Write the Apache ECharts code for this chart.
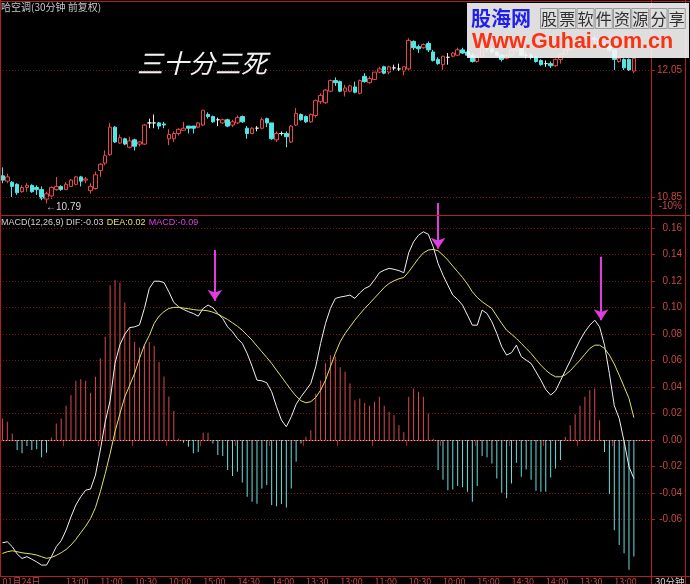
<!DOCTYPE html>
<html>
<head>
<meta charset="utf-8">
<title>哈空调 30分钟 MACD</title>
<script src="https://cdn.jsdelivr.net/npm/echarts@6.0.0/dist/echarts.min.js"></script>
<style>
html,body{margin:0;padding:0;background:#000;}
#chart{width:690px;height:584px;}
</style>
</head>
<body>
<div id="chart"></div>
<script>
// ---------------- data ----------------
const priceOpen = [
 11.05,11.00,10.99,10.97,10.90,10.94,10.96,10.94,10.92,10.83,
 10.86,10.92,10.95,10.92,10.95,10.97,11.04,11.01,10.91,10.93,
 11.10,11.17,11.25,11.51,11.36,11.40,11.32,11.39,11.35,11.35,
 11.55,11.55,11.55,11.54,11.40,11.40,11.45,11.48,11.52,11.52,
 11.51,11.53,11.63,11.61,11.58,11.55,11.58,11.53,11.55,11.61,
 11.50,11.45,11.50,11.50,11.59,11.55,11.39,11.45,11.45,11.37,
 11.53,11.63,11.61,11.56,11.62,11.75,11.74,11.85,11.95,11.94,
 11.85,11.85,11.89,11.83,11.99,11.93,11.96,12.03,12.08,12.03,
 12.07,12.06,12.04,12.06,12.32,12.27,12.26,12.30,12.22,12.15,
 12.10,12.17,12.18,12.19,12.24,12.22,12.19,12.13,12.18,12.27,
 12.25,12.22,12.19,12.16,12.19,12.24,12.25,12.19,12.19,12.17,
 12.14,12.11,12.11,12.09,12.15,12.20,12.24,12.27,12.30,12.32,
 12.33,12.35,12.34,12.29,12.28,12.24,12.13,12.15,12.15,12.04];
const priceClose = [
 11.01,11.04,10.95,10.89,10.94,10.96,10.90,10.92,10.84,10.88,
 10.94,10.95,10.92,10.97,11.01,11.04,11.00,11.02,10.95,11.06,
 11.16,11.24,11.51,11.37,11.41,11.35,11.38,11.33,11.37,11.53,
 11.55,11.55,11.52,11.53,11.44,11.45,11.49,11.50,11.50,11.50,
 11.55,11.67,11.61,11.56,11.58,11.58,11.52,11.56,11.60,11.56,
 11.45,11.50,11.50,11.58,11.55,11.40,11.45,11.45,11.42,11.52,
 11.64,11.58,11.56,11.63,11.76,11.81,11.86,11.95,11.93,11.85,
 11.88,11.90,11.84,11.95,11.94,11.97,12.03,12.06,12.02,12.08,
 12.07,12.06,12.08,12.33,12.26,12.25,12.29,12.24,12.14,12.11,
 12.18,12.17,12.21,12.24,12.21,12.19,12.13,12.18,12.27,12.25,
 12.22,12.19,12.15,12.19,12.24,12.26,12.19,12.19,12.17,12.13,
 12.10,12.11,12.09,12.15,12.20,12.24,12.27,12.30,12.32,12.33,
 12.35,12.34,12.29,12.27,12.24,12.15,12.16,12.07,12.05,12.16];
const priceLow = [
 10.98,10.98,10.85,10.87,10.89,10.90,10.89,10.87,10.82,10.79,
 10.83,10.91,10.91,10.92,10.95,10.96,10.95,10.98,10.88,10.92,
 11.04,11.15,11.24,11.36,11.35,11.34,11.31,11.29,11.33,11.34,
 11.50,11.50,11.49,11.50,11.34,11.37,11.43,11.48,11.45,11.45,
 11.50,11.52,11.59,11.55,11.52,11.54,11.51,11.51,11.54,11.55,
 11.40,11.45,11.47,11.49,11.51,11.39,11.37,11.43,11.32,11.36,
 11.52,11.57,11.55,11.55,11.60,11.73,11.73,11.84,11.90,11.84,
 11.80,11.84,11.83,11.82,11.93,11.92,11.96,12.02,12.01,12.01,
 12.04,12.04,12.00,12.05,12.24,12.21,12.25,12.22,12.13,12.10,
 12.05,12.10,12.17,12.18,12.20,12.18,12.12,12.12,12.17,12.22,
 12.21,12.18,12.13,12.15,12.18,12.22,12.18,12.16,12.15,12.12,
 12.09,12.08,12.07,12.08,12.11,12.19,12.23,12.26,12.28,12.29,
 12.31,12.31,12.27,12.25,12.22,12.05,12.12,12.05,12.04,12.02];
const priceHigh = [
 11.13,11.07,11.00,10.98,10.96,10.98,10.97,10.96,10.95,10.90,
 10.95,11.04,10.96,10.99,11.02,11.05,11.05,11.04,10.98,11.09,
 11.17,11.29,11.55,11.52,11.44,11.41,11.42,11.40,11.38,11.54,
 11.59,11.63,11.56,11.56,11.49,11.47,11.50,11.56,11.52,11.52,
 11.56,11.67,11.65,11.62,11.60,11.59,11.59,11.58,11.62,11.62,
 11.52,11.51,11.52,11.60,11.60,11.55,11.47,11.47,11.47,11.53,
 11.69,11.64,11.62,11.64,11.77,11.83,11.87,11.96,11.98,11.95,
 11.91,11.91,11.94,11.96,12.02,11.99,12.03,12.08,12.09,12.09,
 12.10,12.11,12.08,12.35,12.33,12.29,12.30,12.32,12.24,12.17,
 12.18,12.21,12.22,12.26,12.26,12.24,12.21,12.19,12.29,12.28,
 12.26,12.23,12.20,12.20,12.25,12.28,12.26,12.22,12.21,12.18,
 12.15,12.14,12.13,12.16,12.21,12.25,12.29,12.32,12.34,12.35,
 12.37,12.37,12.35,12.31,12.30,12.25,12.17,12.16,12.16,12.17];

const difValues = [
 -0.0775,-0.0768,-0.0805,-0.086,-0.0894,-0.088,-0.090,-0.092,-0.0944,-0.0944,
 -0.088,-0.0805,-0.076,-0.068,-0.058,-0.049,-0.0428,-0.0378,-0.037,-0.0264,
 -0.0075,0.0138,0.030,0.058,0.072,0.080,0.085,0.0855,0.087,0.0994,
 0.1145,0.120,0.120,0.119,0.112,0.104,0.1007,0.0986,0.097,0.0956,
 0.0936,0.0994,0.102,0.0999,0.0956,0.0918,0.0855,0.0818,0.0767,0.073,
 0.0654,0.0558,0.0453,0.0448,0.0433,0.0365,0.0252,0.0151,0.0101,0.0176,
 0.027,0.0327,0.0377,0.0428,0.0554,0.073,0.0881,0.0994,0.107,0.108,
 0.1087,0.1095,0.107,0.1112,0.1145,0.1162,0.121,0.1264,0.1284,0.1297,
 0.129,0.128,0.1264,0.1415,0.1498,0.1548,0.1573,0.1555,0.146,0.1334,
 0.1246,0.117,0.1095,0.1062,0.1019,0.0944,0.0868,0.0868,0.0982,0.0956,
 0.0893,0.0805,0.0705,0.0642,0.066,0.0717,0.063,0.0604,0.0579,0.0516,
 0.0453,0.0382,0.034,0.0372,0.0448,0.0524,0.0599,0.068,0.0755,0.0818,
 0.0868,0.0906,0.0855,0.0717,0.0503,0.026,0.0164,-0.001,-0.0201,-0.029];
const deaValues = [
 -0.0856,-0.0843,-0.0836,-0.0843,-0.0851,-0.0856,-0.0861,-0.0868,-0.0881,-0.0893,
 -0.0886,-0.0871,-0.0851,-0.0826,-0.0793,-0.075,-0.070,-0.065,-0.0592,-0.051,
 -0.039,-0.0252,-0.0101,0.0063,0.020,0.0327,0.0415,0.0503,0.0617,0.0717,
 0.079,0.0881,0.0936,0.097,0.0994,0.1002,0.1002,0.0997,0.0992,0.0986,
 0.0981,0.0981,0.0976,0.0966,0.0951,0.0931,0.0911,0.0885,0.086,0.083,
 0.0792,0.0755,0.071,0.0667,0.0624,0.0579,0.0528,0.0478,0.0428,0.0377,
 0.0332,0.0297,0.0282,0.029,0.0322,0.0377,0.0453,0.0554,0.0654,0.0743,
 0.0805,0.0855,0.0906,0.0951,0.0994,0.1032,0.1072,0.1112,0.1153,0.1183,
 0.1203,0.1218,0.1228,0.1271,0.1321,0.1372,0.1414,0.1435,0.144,0.143,
 0.1397,0.1359,0.1314,0.1271,0.1228,0.1178,0.112,0.1077,0.1045,0.1019,
 0.0994,0.0936,0.0881,0.083,0.080,0.0767,0.073,0.0692,0.0654,0.0609,
 0.0566,0.0528,0.0498,0.0478,0.0478,0.0493,0.0524,0.0564,0.0604,0.0649,
 0.0692,0.0717,0.0717,0.0692,0.0642,0.0574,0.0491,0.0403,0.0315,0.017];
const macdValues = [
 0.0164,0.0138,0.005,-0.0075,-0.010,-0.0045,-0.0075,-0.007,-0.013,-0.0096,
 0.002,0.0126,0.0164,0.026,0.034,0.0448,0.046,0.0448,0.0357,0.0478,
 0.0619,0.078,0.117,0.121,0.119,0.104,0.0855,0.074,0.070,0.072,
 0.074,0.071,0.059,0.048,0.033,0.022,0.001,-0.002,-0.005,-0.010,
 -0.009,0.0055,0.0055,-0.0025,-0.0113,-0.012,-0.0226,-0.0272,-0.024,-0.032,
 -0.0428,-0.0466,-0.048,-0.0365,-0.034,-0.049,-0.050,-0.0483,-0.051,-0.0365,
 -0.0164,-0.0025,0.0025,0.0075,0.035,0.045,0.058,0.064,0.063,0.055,
 0.0516,0.0428,0.030,0.0315,0.028,0.026,0.029,0.0327,0.026,0.0214,
 0.019,0.0113,0.006,0.0327,0.039,0.0365,0.0327,0.020,0.001,-0.0226,
 -0.030,-0.0378,-0.0373,-0.0347,-0.0357,-0.039,-0.0466,-0.0347,-0.012,-0.013,
 -0.0176,-0.029,-0.0398,-0.044,-0.0327,-0.0171,-0.0277,-0.0222,-0.030,-0.0383,
 -0.039,-0.039,-0.0282,-0.0214,-0.015,0.0025,0.0113,0.0196,0.026,0.0327,
 0.0377,0.039,0.015,-0.009,-0.0408,-0.068,-0.0793,-0.0855,-0.098,-0.088];

// time axis tick labels and the bar index each one sits at
const tickIndex  = [0, 13, 20, 27, 34, 41, 48, 55, 62, 69, 76, 83, 90, 97, 104, 111, 118, 125];
const tickLabels = ['01月24日','13:00','11:00','10:30','10:00','15:00','14:30','14:00','13:30',
                    '13:00','11:00','10:30','10:00','15:00','14:30','14:00','13:30','13:00'];
const priceLabels = [12.05, 10.85];
const limitPct = -10;
const macdLabels = [-0.06,-0.04,-0.02,0,0.02,0.04,0.06,0.08,0.10,0.12,0.14,0.16];

// annotation arrows (bar index, MACD value at top, MACD value at tip)
const arrowIdx  = [43.4, 89.0, 122.3];
const arrowFrom = [0.1435, 0.179, 0.1384];
const arrowTo   = [0.1053, 0.1446, 0.0906];

// ---------------- build chart ----------------
const SLOTS = 133;
const FRAME = '#b41e1e';
const GRIDDOT = '#7c1616';
const AXISTXT = '#c84646';
const UP = '#e84848';
const DOWN = '#52e6e6';
const HUP = '#d84a4a';
const HDOWN = '#66dede';
const FONT = '"Liberation Sans", Arial, sans-serif';
const CJK = '"Noto Sans CJK SC", sans-serif';

const slots = Array.from({length: SLOTS}, (_, i) => String(i));
const labelAt = {};
tickIndex.forEach((ix, k) => { labelAt[ix] = tickLabels[k]; });
const isTick = (i) => Object.prototype.hasOwnProperty.call(labelAt, i);

const candles = priceOpen.map((o, i) => [o, priceClose[i], priceLow[i], priceHigh[i]]);

const priceMin = 10.68, priceMax = 12.664;
const pctBase = priceLabels[1] / (1 + limitPct / 100);
const pctMin = (priceMin / pctBase - 1) * 100;
const pctMax = (priceMax / pctBase - 1) * 100;
const macdMin = -0.10, macdMax = 0.17;
const macdPerPx = (macdMax - macdMin) / 357.5;

const last = difValues.length - 1;
const f2 = v => v.toFixed(2);

const graphics = [
  // frame
  {type: 'line', shape: {x1: 0, y1: 1.5, x2: 690, y2: 1.5}},
  {type: 'line', shape: {x1: 0.5, y1: 0, x2: 0.5, y2: 577}},
  {type: 'line', shape: {x1: 0, y1: 215.5, x2: 690, y2: 215.5}},
  {type: 'line', shape: {x1: 0, y1: 576.5, x2: 690, y2: 576.5}},
  {type: 'line', shape: {x1: 651.5, y1: 0, x2: 651.5, y2: 584}},
  {type: 'line', shape: {x1: 685.5, y1: 0, x2: 685.5, y2: 584}}
].map(g => Object.assign(g, {style: {stroke: FRAME, lineWidth: 1}, silent: true, z: 50}));

graphics.push(
  {type: 'text', z: 55, silent: true,
   style: {x: 1, y: 7, text: '哈空调(30分钟 前复权)', fill: '#c8c8c8', font: '10px ' + CJK, textVerticalAlign: 'middle'}},
  {type: 'text', z: 55, silent: true,
   style: {x: 137, y: 63, text: '三十分三死', fill: '#f2f2f2', font: 'italic 26px ' + CJK, textVerticalAlign: 'middle'}},
  {type: 'text', z: 55, silent: true,
   style: {x: 1, y: 223, textVerticalAlign: 'middle',
     text: '{a|MACD(12,26,9) DIF:' + f2(difValues[last]) + '} {b|DEA:' + f2(deaValues[last]) + '} {c|MACD:' + f2(macdValues[last]) + '}',
     rich: {
       a: {fill: '#d0d0d0', font: '9px ' + FONT},
       b: {fill: '#e2e266', font: '9px ' + FONT},
       c: {fill: '#e040e0', font: '9px ' + FONT}
     }}},
  {type: 'text', z: 55, silent: true,
   style: {x: 655, y: 577, text: '30分钟', fill: '#d0d0d0', font: '9.5px ' + CJK, textVerticalAlign: 'top'}},
  // banner
  {type: 'rect', z: 60, silent: true, shape: {x: 467, y: 3, width: 222, height: 55},
   style: {fill: 'rgba(246,246,246,0.9)'}},
  {type: 'text', z: 61, silent: true,
   style: {x: 471, y: 18, text: '股海网', fill: '#1e1ef0', font: 'bold 20px ' + CJK, textVerticalAlign: 'middle'}},
  {type: 'text', z: 61, silent: true,
   style: {x: 472, y: 42, text: 'Www.Guhai.com.cn', fill: '#ff3010', font: 'bold 21.5px ' + FONT, textVerticalAlign: 'middle'}}
);
'股票软件资源分享'.split('').forEach((ch, k) => {
  graphics.push(
    {type: 'rect', z: 61, silent: true, shape: {x: 540.5 + k * 18.25, y: 8.5, width: 17, height: 20},
     style: {fill: 'none', stroke: '#9a9a9a', lineWidth: 1}},
    {type: 'text', z: 62, silent: true,
     style: {x: 549 + k * 18.25, y: 18.5, text: ch, fill: '#303030', font: '16px ' + CJK, textAlign: 'center', textVerticalAlign: 'middle'}}
  );
});

const option = {
  backgroundColor: '#000',
  animation: false,
  grid: [
    {left: 0, right: 39, top: 5, height: 210, outerBoundsMode: 'none'},
    {left: 0, right: 39, top: 215, height: 357.5, outerBoundsMode: 'none'},
    {left: 0, right: 39, top: 200, height: 372.5, outerBoundsMode: 'none'}
  ],
  xAxis: [
    {gridIndex: 0, type: 'category', data: slots, show: false},
    {gridIndex: 1, type: 'category', data: slots, offset: 4,
     axisLine: {show: true, lineStyle: {color: FRAME, width: 1}},
     axisTick: {show: true, interval: (i) => isTick(i) && i > 0, length: 6, lineStyle: {color: FRAME}},
     axisLabel: {interval: (i) => isTick(i), formatter: (v) => labelAt[+v] || '',
                 align: 'left', color: AXISTXT, fontSize: 9, fontFamily: CJK, margin: 1},
     splitLine: {show: false}},
    {gridIndex: 2, type: 'value', min: -0.5, max: SLOTS - 0.5, show: false}
  ],
  yAxis: [
    {gridIndex: 0, type: 'value', position: 'right', min: priceMin, max: priceMax,
     axisLine: {show: false}, splitLine: {show: false},
     axisTick: {show: true, customValues: priceLabels, length: 4, lineStyle: {color: FRAME}},
     axisLabel: {customValues: priceLabels, formatter: v => v.toFixed(2), color: AXISTXT,
                 fontSize: 10, fontFamily: FONT, align: 'right', margin: 31}},
    {gridIndex: 0, type: 'value', position: 'right', min: pctMin, max: pctMax,
     axisLine: {show: false}, splitLine: {show: false}, axisTick: {show: false},
     axisLabel: {customValues: [limitPct], formatter: v => Math.round(v) + '%', color: AXISTXT,
                 fontSize: 10, fontFamily: FONT, align: 'right', margin: 31, verticalAlign: 'top', lineHeight: 18}},
    {gridIndex: 1, type: 'value', position: 'right', min: macdMin, max: macdMax, interval: 0.02,
     axisLine: {show: false},
     splitLine: {show: true, lineStyle: {color: GRIDDOT, type: [1, 2], width: 1}},
     axisTick: {show: true, customValues: macdLabels, length: 4, lineStyle: {color: FRAME}},
     axisLabel: {customValues: macdLabels, formatter: v => v.toFixed(2), color: AXISTXT,
                 fontSize: 10, fontFamily: FONT, align: 'right', margin: 31}},
    {gridIndex: 2, type: 'value', min: macdMin, max: macdMax + 15 * macdPerPx, show: false}
  ],
  series: [
    {type: 'candlestick', xAxisIndex: 0, yAxisIndex: 0, data: candles, barWidth: 4,
     itemStyle: {color: '#000', color0: DOWN, borderColor: UP, borderColor0: DOWN,
                 borderColorDoji: '#ececec', borderWidth: 1},
     markLine: {silent: true, symbol: ['none', 'none'], label: {show: false},
                lineStyle: {color: GRIDDOT, type: [1, 2], width: 1},
                data: priceLabels.map(v => ({yAxis: v}))},
     markPoint: {symbol: 'circle', symbolSize: 1, itemStyle: {color: 'rgba(0,0,0,0)'},
                 label: {show: true, position: 'right', distance: 0, offset: [-1, 4],
                         formatter: p => '←' + p.value.toFixed(2), color: '#d8d8d8', fontSize: 10, fontFamily: FONT},
                 data: [{type: 'min', valueDim: 'lowest'}]}
    },
    {type: 'bar', xAxisIndex: 1, yAxisIndex: 2, data: macdValues, barWidth: 1,
     itemStyle: {color: p => (p.value >= 0 ? HUP : HDOWN)},
     markLine: {silent: true, symbol: ['none', 'none'], label: {show: false},
                lineStyle: {color: '#bdbdbd', type: [1, 2], width: 1}, data: [{yAxis: 0}]}},
    {type: 'line', xAxisIndex: 1, yAxisIndex: 2, data: difValues, symbol: 'none', z: 3,
     lineStyle: {color: '#f0f0f0', width: 1}},
    {type: 'line', xAxisIndex: 1, yAxisIndex: 2, data: deaValues, symbol: 'none', z: 3,
     lineStyle: {color: '#e2e266', width: 1}},
    {type: 'line', xAxisIndex: 2, yAxisIndex: 3, data: [], symbol: 'none', z: 5,
     markLine: {silent: true, symbol: ['none', 'arrow'], symbolSize: 11, label: {show: false},
                lineStyle: {color: '#e03ce0', width: 2, type: 'solid'},
                itemStyle: {color: '#e03ce0'},
                data: arrowIdx.map((x, k) => [{coord: [x, arrowFrom[k]]}, {coord: [x, arrowTo[k]]}])}}
  ],
  graphic: graphics
};

const chart = echarts.init(document.getElementById('chart'));
chart.setOption(option);
</script>
</body>
</html>
